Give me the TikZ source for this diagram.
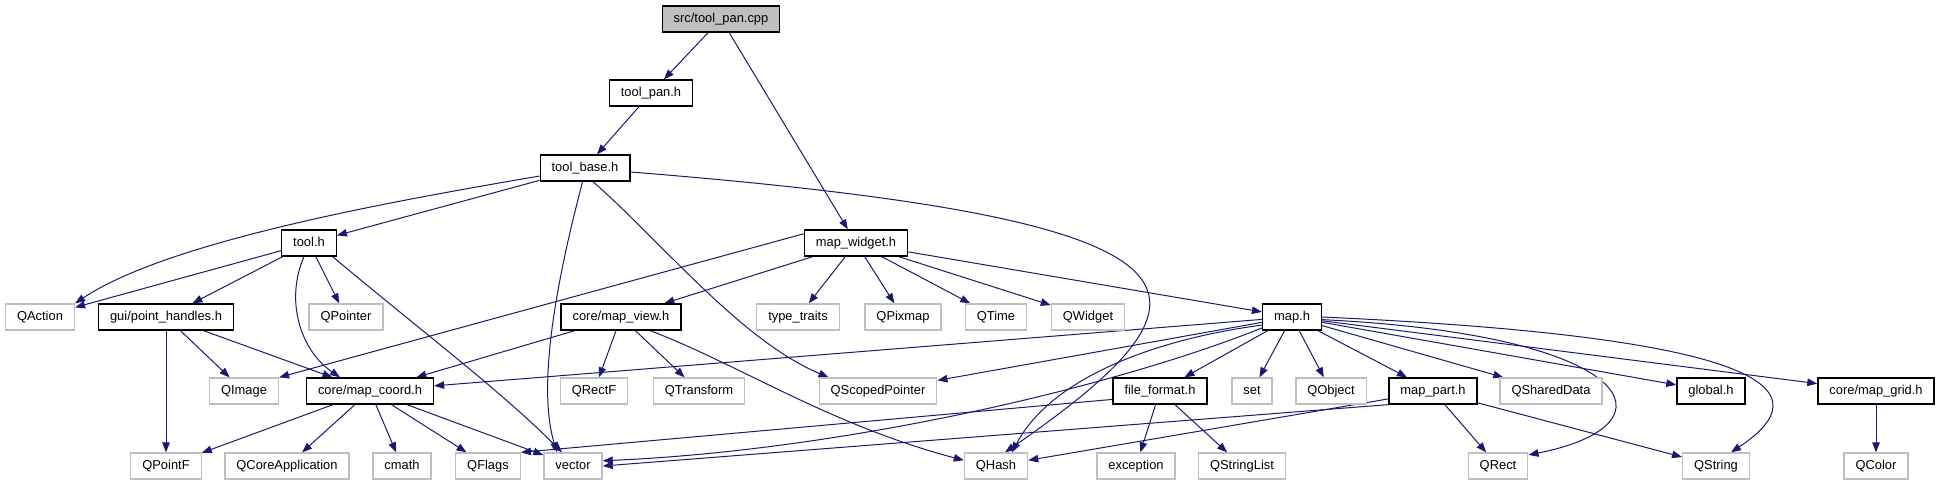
\documentclass[tikz,border=0pt]{standalone}
\usepackage{fontspec}
\setmainfont{Liberation Sans}
\usepackage{tikz}
\usetikzlibrary{arrows.meta}
\definecolor{edgeblue}{HTML}{191970}
\definecolor{sysgray}{HTML}{BFBFBF}
\definecolor{rootgray}{HTML}{BFBFBF}
\pgfdeclarelayer{edges}
\pgfsetlayers{edges,main}

\begin{document}
\begin{tikzpicture}[x=1pt, y=-1pt, >={Triangle[length=10pt,width=7.5pt]},
  font=\fontsize{12.9}{14}\selectfont,
  file/.style={draw, line width=1.3pt, fill=white, minimum height=26pt, inner xsep=11.5pt,
    text height=9.5pt, text depth=2.8pt},
  hdr/.style={file, draw=black},
  sys/.style={file, draw=sysgray},
  root/.style={file, draw=black, fill=rootgray},
  dep/.style={->, edgeblue, line width=1pt}]
  \useasboundingbox (0,0) rectangle (1939,485);

  % Root and project headers
  \node[root] (src) at (721,19) {src/tool\_pan.cpp};
  \node[hdr] (toolpan) at (651,93) {tool\_pan.h};
  \node[hdr] (toolbase) at (585,168) {tool\_base.h};
  \node[hdr] (tool) at (309,243) {tool.h};
  \node[hdr] (mapwidget) at (856,243) {map\_widget.h};
  \node[hdr] (pointhandles) at (166,317) {gui/point\_handles.h};
  \node[hdr] (mapview) at (621,317) {core/map\_view.h};
  \node[hdr] (maph) at (1292,317) {map.h};
  \node[hdr] (mcoord) at (370,391) {core/map\_coord.h};
  \node[hdr] (fileformat) at (1160,391) {file\_format.h};
  \node[hdr] (mappart) at (1433,391) {map\_part.h};
  \node[hdr] (global) at (1711,391) {global.h};
  \node[hdr] (mapgrid) at (1876,391) {core/map\_grid.h};

  % System headers
  \node[sys] (qaction) at (40,317) {QAction};
  \node[sys] (qpointer) at (346,317) {QPointer};
  \node[sys] (typetraits) at (798,317) {type\_traits};
  \node[sys] (qpixmap) at (903,317) {QPixmap};
  \node[sys] (qtime) at (996,317) {QTime};
  \node[sys] (qwidget) at (1088,317) {QWidget};
  \node[sys] (qimage) at (244,391) {QImage};
  \node[sys] (qrectf) at (594,391) {QRectF};
  \node[sys] (qtransform) at (699,391) {QTransform};
  \node[sys] (qsp) at (878,391) {QScopedPointer};
  \node[sys] (set) at (1252,391) {set};
  \node[sys] (qobject) at (1331,391) {QObject};
  \node[sys] (qshared) at (1551,391) {QSharedData};
  \node[sys] (qpointf) at (166,466) {QPointF};
  \node[sys] (qcoreapp) at (287,466) {QCoreApplication};
  \node[sys] (cmath) at (402,466) {cmath};
  \node[sys] (qflags) at (488,466) {QFlags};
  \node[sys] (vector) at (573,466) {vector};
  \node[sys] (qhash) at (996,466) {QHash};
  \node[sys] (exception) at (1136,466) {exception};
  \node[sys] (qstringlist) at (1242,466) {QStringList};
  \node[sys] (qrect) at (1498,466) {QRect};
  \node[sys] (qstring) at (1716,466) {QString};
  \node[sys] (qcolor) at (1876,466) {QColor};

  \begin{pgfonlayer}{edges}
  % src/tool_pan.cpp and tool_pan.h
  \draw[dep] (src) -- (toolpan);
  \draw[dep] (src) -- (mapwidget);
  \draw[dep] (toolpan) -- (toolbase);

  % tool_base.h
  \draw[dep] (toolbase.190) .. controls (400,200) and (170,240) .. (qaction.north east);
  \draw[dep] (toolbase) -- (tool);
  \draw[dep] (toolbase.-100) .. controls (562,260) and (535,380) .. ([xshift=-16pt]vector.north);
  \draw[dep] (toolbase.-60) .. controls (660,240) and (740,340) .. ([xshift=10pt]qsp.north west);
  \draw[dep] (toolbase.-5) .. controls (1230,220) and (1240,290) .. ([xshift=9pt]qhash.north);

  % tool.h
  \draw[dep] (tool) -- (qaction);
  \draw[dep] (tool) -- (pointhandles);
  \draw[dep] (tool.250) .. controls (285,300) and (300,350) .. ([xshift=-30pt]mcoord.north);
  \draw[dep] (tool) -- (qpointer);
  \draw[dep] (tool.-30) .. controls (420,330) and (500,390) .. ([xshift=-11pt]vector.north);

  % map_widget.h
  \draw[dep] (mapwidget.170) -- (qimage.north east);
  \draw[dep] (mapwidget) -- (mapview);
  \draw[dep] (mapwidget) -- (typetraits);
  \draw[dep] (mapwidget) -- (qpixmap);
  \draw[dep] (mapwidget) -- (qtime);
  \draw[dep] (mapwidget) -- (qwidget);
  \draw[dep] (mapwidget) -- (maph);

  % gui/point_handles.h and core/map_view.h
  \draw[dep] (pointhandles) -- (qpointf);
  \draw[dep] (pointhandles) -- (qimage);
  \draw[dep] (pointhandles) -- (mcoord);
  \draw[dep] (mapview) -- (mcoord);
  \draw[dep] (mapview) -- (qrectf);
  \draw[dep] (mapview) -- (qtransform);
  \draw[dep] (mapview.-25) .. controls (740,365) and (830,425) .. (qhash.170);

  % core/map_coord.h
  \draw[dep] (mcoord) -- (qpointf);
  \draw[dep] (mcoord) -- (qcoreapp);
  \draw[dep] (mcoord) -- (cmath);
  \draw[dep] (mcoord) -- (qflags);
  \draw[dep] (mcoord) -- (vector);

  % map.h
  \draw[dep] (maph) -- (mcoord);
  \draw[dep] (maph) -- (qsp);
  \draw[dep] (maph.200) .. controls (1120,385) and (850,450) .. (vector.10);
  \draw[dep] (maph.195) .. controls (1150,340) and (1050,380) .. ([xshift=16pt]qhash.north);
  \draw[dep] (maph) -- (fileformat);
  \draw[dep] (maph) -- (set);
  \draw[dep] (maph) -- (qobject);
  \draw[dep] (maph) -- (mappart);
  \draw[dep] (maph) -- (qshared);
  \draw[dep] (maph) -- (global);
  \draw[dep] (maph) -- (mapgrid);
  \draw[dep] (maph.-5) .. controls (1640,335) and (1680,425) .. (qrect.20);
  \draw[dep] (maph.east) .. controls (1720,335) and (1840,380) .. ([xshift=15pt]qstring.north);

  % file_format.h, map_part.h, core/map_grid.h
  \draw[dep] (fileformat.190) -- (qflags.north east);
  \draw[dep] (fileformat) -- (exception);
  \draw[dep] (fileformat) -- (qstringlist);
  \draw[dep] (mappart.south west) -- (vector.east);
  \draw[dep] (mappart.190) -- (qhash.10);
  \draw[dep] (mappart) -- (qrect);
  \draw[dep] (mappart) -- (qstring);
  \draw[dep] (mapgrid) -- (qcolor);
  \end{pgfonlayer}
\end{tikzpicture}
\end{document}
